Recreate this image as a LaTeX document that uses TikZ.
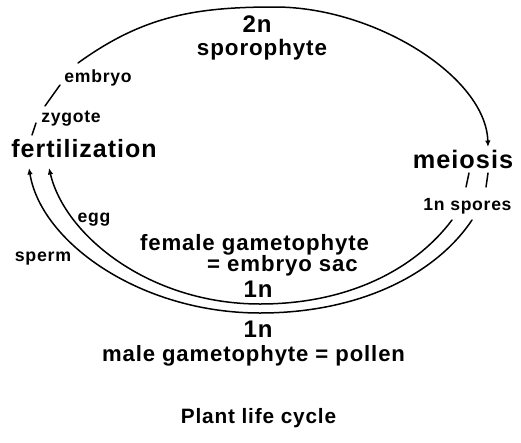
\documentclass[tikz,border=0pt]{standalone}
\usepackage{fontspec}
\setmainfont{Liberation Sans}[LetterSpace=4]
\usetikzlibrary{arrows.meta}
\begin{document}
\begin{tikzpicture}[x=1pt,y=-1pt,
  txt/.style={inner sep=0pt, anchor=base, font=\bfseries\fontsize{#1}{#1}\selectfont},
  cyc/.style={line width=1.5pt, line cap=round},
  arr/.style={cyc, -{Latex[length=6.5pt,width=5.5pt]}}]
\useasboundingbox[fill=white] (0,0) rectangle (521,442);
% texts
\node[txt=24] (n2) at (257,32) {2n};
\node[txt=22.4] (spo) at (262,55) {sporophyte};
\node[txt=17.6] (emb) at (98,82) {embryo};
\node[txt=17.6] (zyg) at (71,122) {zygote};
\node[txt=25] (fer) at (84,157.5) {fertilization};
\node[txt=25.3] (mei) at (463,168) {meiosis};
\node[txt=17.6] (spr) at (467.5,210) {1n spores};
\node[txt=17.6] (egg) at (94,222) {egg};
\node[txt=17.8] (spm) at (43,261) {sperm};
\node[txt=22.2] (fem) at (254.5,250) {female gametophyte};
\node[txt=22.2] (sac) at (282.5,271) {= embryo sac};
\node[txt=24] (n1a) at (258,297) {1n};
\node[txt=24] (n1b) at (258,337) {1n};
\node[txt=22.1] (mal) at (253.5,361) {male gametophyte = pollen};
\node[txt=20.8] (ttl) at (258.5,423) {Plant life cycle};
% connector end points
\coordinate (a1) at (78,63);
\coordinate (atop) at (275,7);
\coordinate (a2) at (488,147);
\coordinate (i1) at (452,220);
\coordinate (ib) at (260,304);
\coordinate (i2) at (49,168);
\coordinate (o1) at (472,220);
\coordinate (ob) at (260,313);
\coordinate (o2) at (29,168);
\coordinate (ez1) at (60,85);
\coordinate (ez2) at (45,106);
\coordinate (zf1) at (36,123);
\coordinate (zf2) at (32,135);
\coordinate (ms1) at (469,173);
\coordinate (ms2) at (466,187);
\coordinate (mt1) at (488,173);
\coordinate (mt2) at (486,187);
% sporophyte arc
\draw[arr] (a1) .. controls (143,16) and (195,7) .. (atop)
  .. controls (375,7) and (486,77) .. (a2);
% egg line
\draw[arr] (i1) .. controls (416,268) and (350,304) .. (ib)
  .. controls (150,304) and (65,236) .. (i2);
% sperm line
\draw[arr] (o1) .. controls (436,274) and (360,313) .. (ob)
  .. controls (140,313) and (41,242) .. (o2);
% short dashes
\draw[cyc] (ez1) -- (ez2);
\draw[cyc] (zf1) -- (zf2);
\draw[cyc] (ms1) -- (ms2);
\draw[cyc] (mt1) -- (mt2);
\end{tikzpicture}
\end{document}
